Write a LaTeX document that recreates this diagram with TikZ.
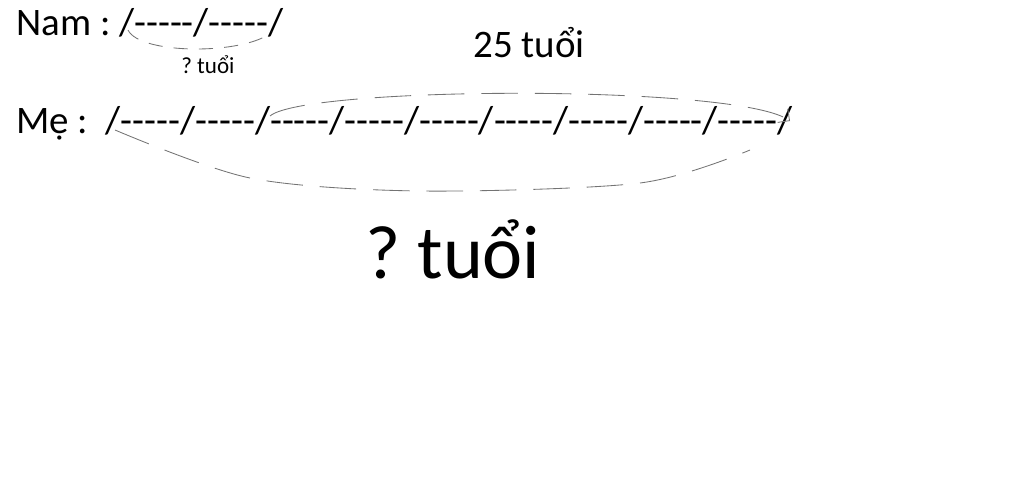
\documentclass[tikz,border=0pt]{standalone}
\usepackage{fontspec}
\setmainfont{Carlito}
\usepackage{tikz}
\usetikzlibrary{arrows.meta}

\newcommand{\seg}{/-{}-{}-{}-{}-}
\frenchspacing

\begin{document}
\begin{tikzpicture}[x=0.025cm, y=-0.025cm,
    txt/.style={anchor=base west, inner sep=0pt, font=\fontsize{27.7}{30}\selectfont},
    smalltxt/.style={anchor=base west, inner sep=0pt, font=\fontsize{16.4}{18}\selectfont},
    bigtxt/.style={anchor=base west, inner sep=0pt, font=\fontsize{54}{60}\selectfont},
    sketch/.style={draw=black!55, line width=0.6pt, dash pattern=on 26pt off 12pt}]
  \useasboundingbox (0,0) rectangle (1024,479);

  % Lines
  \node[txt] (nam) at (16,36) {Nam : \seg\seg/};
  \node[txt] (me) at (16,133) {Mẹ :\ \ \seg\seg\seg\seg\seg\seg\seg\seg\seg/};

  % Labels
  \node[txt] (tuoiA) at (473,58) {25 tuổi};
  \node[smalltxt] (tuoiNam) at (181,74) {? tuổi};
  \node[bigtxt] (tuoiMe) at (365,278) {? tuổi};

  % Ends of the curves
  \coordinate (namL) at (128,30);
  \coordinate (namR) at (272,32);
  \coordinate (topL) at (270,116);
  \coordinate (topR) at (790,121);
  \coordinate (botL) at (115,130);
  \coordinate (botR) at (750,150);

  % Curves
  \draw[sketch, dash pattern=on 10pt off 8pt] (namL) .. controls (140,55) and (245,55) .. (namR);
  \draw[sketch, -{Straight Barb[length=6pt]}] (topL) .. controls (305,86) and (740,84) .. (topR);
  \draw[sketch] plot[smooth] coordinates {(botL) (250,178) (420,191) (640,183) (botR)};
\end{tikzpicture}
\end{document}
